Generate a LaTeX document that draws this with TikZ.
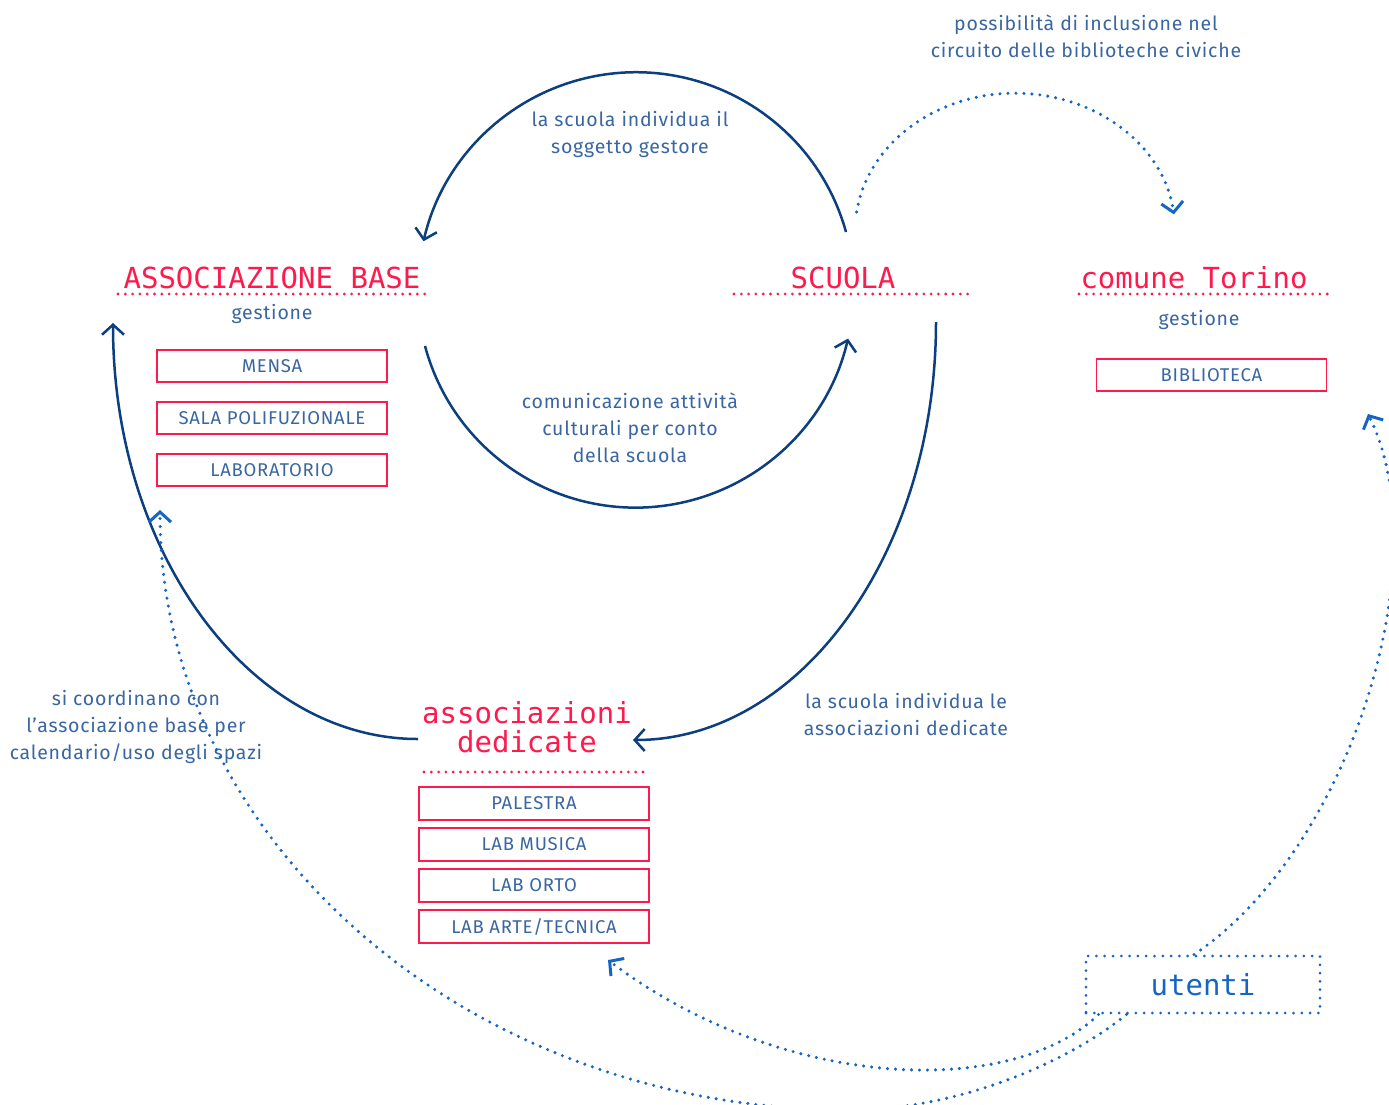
\documentclass[tikz,border=0pt]{standalone}
\usepackage{fontspec}
\setmainfont{Fira Sans}[LetterSpace=4]
\newfontfamily\monof{DejaVu Sans Mono}
\usetikzlibrary{arrows.meta}
\definecolor{navy}{HTML}{0B3F7F}
\definecolor{txtblue}{HTML}{3A66A2}
\definecolor{dotblue}{HTML}{1565C4}
\definecolor{hot}{HTML}{FF1A4D}
\tikzset{
  title/.style={text=hot, font=\monof\fontsize{29}{28.5}\selectfont, inner sep=0pt, align=center},
  lbl/.style={text=txtblue, font=\fontsize{19.5}{27}\selectfont, align=center, inner sep=0pt},
  itembox/.style={draw=hot, line width=1.3pt, minimum width=230pt, minimum height=32pt, text=txtblue, font=\fontsize{18.5}{22}\selectfont, inner sep=0pt},
  conn/.style={draw=navy, line width=2.5pt, -{Straight Barb[length=10pt,width=22pt]}},
  dots/.style={draw=dotblue, line width=3.4pt, line cap=round, dash pattern=on 0pt off 8pt, -{Straight Barb[length=10pt,width=22pt,line width=3pt]}},
  reddots/.style={draw=hot, line width=3.1pt, line cap=round, dash pattern=on 0pt off 7.3pt},
}
\begin{document}
\begin{tikzpicture}[x=1pt,y=1pt]
\clip (0,0) rectangle (1389,-1104);
\fill[white] (0,0) rectangle (1389,-1104);

% titles
\node[title, anchor=base] (ab) at (272,-288) {ASSOCIAZIONE BASE};
\draw[reddots] (118,-294) -- (428,-294);
\node[lbl, anchor=base] (abg) at (272,-319) {gestione};
\node[itembox] (mensa) at (272,-366) {MENSA};
\node[itembox] (sala) at (272,-418) {SALA POLIFUZIONALE};
\node[itembox] (lab) at (272,-470) {LABORATORIO};

\node[title, anchor=base] (sc) at (843,-288) {SCUOLA};
\draw[reddots] (734,-294) -- (973,-294);

\node[title, anchor=base] (ct) at (1194,-288) {comune Torino};
\draw[reddots] (1079,-294) -- (1328,-294);
\node[lbl, anchor=base] (ctg) at (1199,-325) {gestione};
\node[itembox] (bib) at (1211.5,-375) {BIBLIOTECA};

\node[title] (ad) at (527,-727) {associazioni\\dedicate};
\draw[reddots] (424,-772) -- (650,-772);
\node[itembox, minimum height=33pt] (pal) at (534,-803.5) {PALESTRA};
\node[itembox, minimum height=33pt] (mus) at (534,-844.5) {LAB MUSICA};
\node[itembox, minimum height=33pt] (orto) at (534,-885.5) {LAB ORTO};
\node[itembox, minimum height=33pt] (arte) at (534,-926.5) {LAB ARTE/TECNICA};

\node[draw=dotblue, line width=3pt, line cap=round, dash pattern=on 0pt off 8.3pt,
      minimum width=234pt, minimum height=57pt, inner sep=0pt,
      text=dotblue, font=\monof\fontsize{29}{32}\selectfont] (ut) at (1203,-984.5) {utenti};

% labels
\node[lbl] (l1) at (630,-134) {la scuola individua il\\soggetto gestore};
\node[lbl] (l2) at (630,-428) {comunicazione attività\\culturali per conto\\della scuola};
\node[lbl] (l3) at (906,-714) {la scuola individua le\\associazioni dedicate};
\node[lbl] (l4) at (136,-727) {si coordinano con\\l’associazione base per\\calendario/uso degli spazi};
\node[lbl] (l5) at (1086,-36) {possibilità di inclusione nel\\circuito delle biblioteche civiche};

% solid connectors
\coordinate (s1) at (846,-232);
\draw[conn] (s1) arc[start angle=15.5, end angle=167, radius=218];
\coordinate (s2) at (425,-346);
\draw[conn] (s2) arc[start angle=195, end angle=347, radius=218];
\coordinate (s3) at (936,-322);
\draw[conn] (s3) arc[start angle=0, end angle=-90, x radius=303, y radius=418];
\coordinate (s4) at (418,-739);
\draw[conn] (s4) arc[start angle=-90, end angle=-180, x radius=305, y radius=416];

% dotted connectors
\coordinate (d1) at (856.6,-212);
\draw[dots] (d1) arc[start angle=172, end angle=7, x radius=160, y radius=138];
\coordinate (e2) at (1368,-414);
\draw[dots] ([xshift=-9pt]ut.north) .. controls (1350,-850) and (1440,-560) .. (e2);
\coordinate (e3) at (608,-960);
\draw[dots] ([xshift=14pt]ut.south west) .. controls (1010,-1100) and (780,-1090) .. (e3);
\coordinate (b4) at (850,-1110);
\draw[dots] ([xshift=42pt]ut.south west) .. controls (1060,-1068) and (950,-1110) .. (b4)
   arc[start angle=-90, end angle=-180, x radius=690, y radius=600];
\end{tikzpicture}
\end{document}
